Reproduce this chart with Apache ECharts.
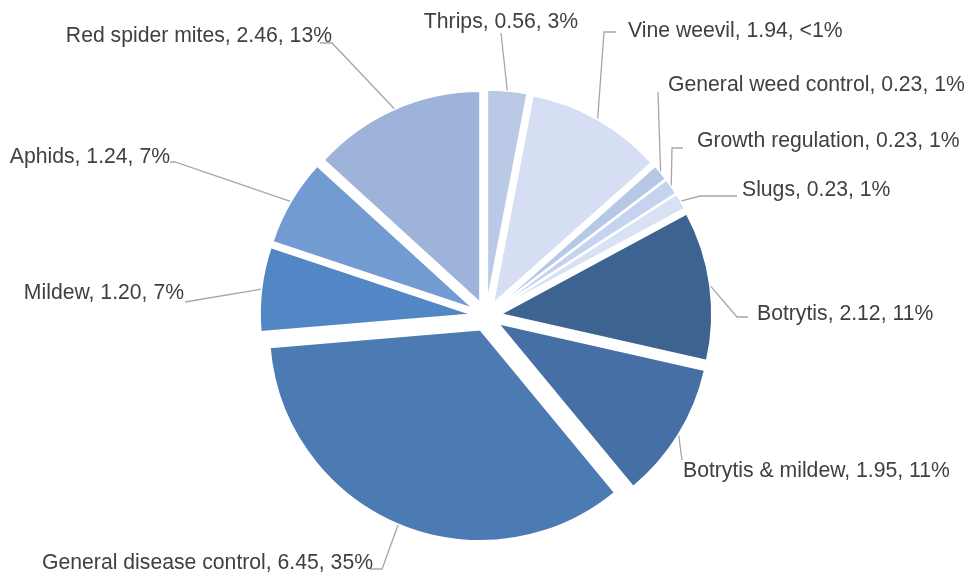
<!DOCTYPE html>
<html>
<head>
<meta charset="utf-8">
<script src="https://cdn.jsdelivr.net/npm/echarts@6/dist/echarts.min.js"></script>
<style>
  html, body { margin: 0; padding: 0; background: #ffffff; }
  #chart { width: 971px; height: 577px; }
</style>
</head>
<body>
<div id="chart"></div>
<script>
// Spray programme breakdown, clockwise from 12 o'clock
const categories = [
  'Thrips', 'Vine weevil', 'General weed control', 'Growth regulation', 'Slugs',
  'Botrytis', 'Botrytis & mildew', 'General disease control', 'Mildew', 'Aphids',
  'Red spider mites'
];
const values = [0.56, 1.94, 0.23, 0.23, 0.23, 2.12, 1.95, 6.45, 1.20, 1.24, 2.46];
const shareLabels = ['3%', '<1%', '1%', '1%', '1%', '11%', '11%', '35%', '7%', '7%', '13%'];

const sliceColors = [
  '#b9c9e6', '#d5def2', '#b7c8e6', '#c5d3ee', '#d8e2f4',
  '#3d6390', '#456fa5', '#4c7bb4', '#5286c4', '#729bd2', '#9db3da'
];

// Pie geometry
const PIE_CENTER = [486, 316];
const PIE_RADIUS = 211;
const EXPLODE = 15;

// Callout placement: text anchor, leader elbow and leader end for each slice
const callouts = [
  { text: [501, 22, 'center'], elbow: [501, 33], end: [501, 33] },
  { text: [628, 31, 'left'],   elbow: [604, 32], end: [616, 32] },
  { text: [668, 85, 'left'],   elbow: [658, 92], end: [658, 92] },
  { text: [697, 141, 'left'],  elbow: [672, 148], end: [683, 148] },
  { text: [742, 190, 'left'],  elbow: [700, 196], end: [737, 196] },
  { text: [757, 314, 'left'],  elbow: [737, 317], end: [748, 317] },
  { text: [683, 471, 'left'],  elbow: [682, 460], end: [682, 460] },
  { text: [373, 563, 'right'], elbow: [382, 569], end: [370, 569] },
  { text: [184, 293, 'right'], elbow: [185, 302], end: [185, 302] },
  { text: [170, 157, 'right'], elbow: [175, 162], end: [170, 162] },
  { text: [332, 36, 'right'],  elbow: [332, 43], end: [320, 43] }
];

const chart = echarts.init(document.getElementById('chart'), null, { renderer: 'canvas' });

const sliceData = categories.map((name, i) => ({
  name: name,
  value: values[i],
  selected: true,
  itemStyle: { color: sliceColors[i] }
}));

const labelData = categories.map((name, i) => ({ name: name, value: values[i] }));

// push the leader start out to the exploded slice edge
function explodedPoint(p) {
  const dx = p[0] - PIE_CENTER[0];
  const dy = p[1] - PIE_CENTER[1];
  const len = Math.sqrt(dx * dx + dy * dy) || 1;
  return [p[0] + dx / len * EXPLODE, p[1] + dy / len * EXPLODE];
}

chart.setOption({
  animation: false,
  backgroundColor: '#ffffff',
  series: [
    {
      // exploded slices
      type: 'pie',
      center: PIE_CENTER,
      radius: PIE_RADIUS,
      startAngle: 90,
      clockwise: true,
      selectedMode: 'multiple',
      selectedOffset: EXPLODE,
      silent: true,
      data: sliceData,
      itemStyle: { borderColor: '#ffffff', borderWidth: 1.5 },
      select: { itemStyle: { borderColor: '#ffffff', borderWidth: 1.5 } },
      emphasis: { scale: false },
      label: { show: false },
      labelLine: { show: false }
    },
    {
      // data callouts
      type: 'pie',
      center: PIE_CENTER,
      radius: PIE_RADIUS,
      startAngle: 90,
      clockwise: true,
      selectedMode: false,
      silent: true,
      avoidLabelOverlap: false,
      data: labelData,
      itemStyle: { color: 'rgba(0,0,0,0)', borderWidth: 0 },
      emphasis: { disabled: true },
      label: {
        show: true,
        position: 'outside',
        overflow: 'none',
        fontFamily: 'Liberation Sans, Arial, sans-serif',
        fontSize: 21.2,
        color: '#404040',
        formatter: p => p.name + ', ' + p.value.toFixed(2) + ', ' + shareLabels[p.dataIndex]
      },
      labelLine: {
        show: true,
        length: 40,
        length2: 15,
        lineStyle: { color: '#a6a6a6', width: 1.3 }
      },
      labelLayout: function (params) {
        const c = callouts[params.dataIndex];
        const start = params.labelLinePoints ? explodedPoint(params.labelLinePoints[0]) : c.elbow;
        return {
          x: c.text[0],
          y: c.text[1],
          align: c.text[2],
          verticalAlign: 'middle',
          labelLinePoints: [start, c.elbow, c.end]
        };
      }
    }
  ]
});
</script>
</body>
</html>
